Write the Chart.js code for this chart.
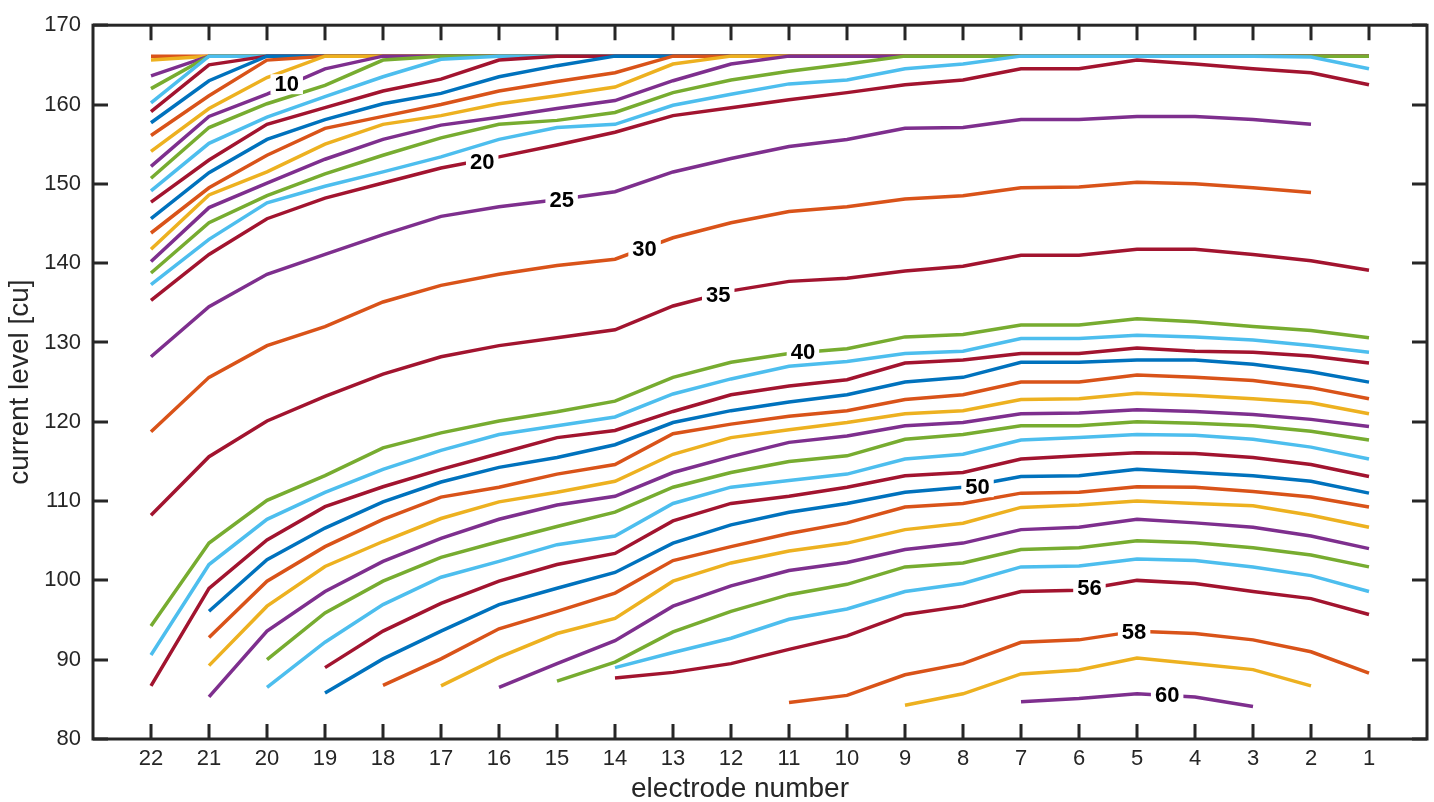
<!DOCTYPE html>
<html>
<head>
<meta charset="utf-8">
<script src="https://cdn.jsdelivr.net/npm/chart.js@4.4.1/dist/chart.umd.min.js"></script>
<style>
  html, body { margin: 0; padding: 0; background: #fff; }
  #wrap { width: 1434px; height: 802px; }
</style>
</head>
<body>
<div id="wrap"><canvas id="levelChart"></canvas></div>
<script>
// electrodes, left to right on the axis
const electrodes = [22, 21, 20, 19, 18, 17, 16, 15, 14, 13, 12, 11, 10, 9, 8, 7, 6, 5, 4, 3, 2, 1];

// current level [cu] per loudness level, one value per electrode (null = no line)
const level01 = [166.1, 166.1, 166.1, 166.1, 166.1, 166.1, 166.1, 166.1, 166.1, 166.1, 166.1, 166.1, 166.1, 166.1, 166.1, 166.1, 166.1, 166.1, 166.1, 166.1, 166.1, 166.1];
const level02 = [165.6, 166.1, 166.1, 166.1, 166.1, 166.1, 166.1, 166.1, 166.1, 166.1, 166.1, 166.1, 166.1, 166.1, 166.1, 166.1, 166.1, 166.1, 166.1, 166.1, 166.1, 166.1];
const level03 = [163.6, 166.1, 166.1, 166.1, 166.1, 166.1, 166.1, 166.1, 166.1, 166.1, 166.1, 166.1, 166.1, 166.1, 166.1, 166.1, 166.1, 166.1, 166.1, 166.1, 166.1, 166.1];
const level04 = [162.0, 166.1, 166.1, 166.1, 166.1, 166.1, 166.1, 166.1, 166.1, 166.1, 166.1, 166.1, 166.1, 166.1, 166.1, 166.1, 166.1, 166.1, 166.1, 166.1, 166.1, 166.1];
const level05 = [160.2, 166.1, 166.1, 166.1, 166.1, 166.1, 166.1, 166.1, 166.1, 166.1, 166.1, 166.1, 166.1, 166.1, 166.1, 166.1, 166.1, 166.1, 166.1, 166.1, 166.1, 166.1];
const level06 = [159.1, 165.0, 166.1, 166.1, 166.1, 166.1, 166.1, 166.1, 166.1, 166.1, 166.1, 166.1, 166.1, 166.1, 166.1, 166.1, 166.1, 166.1, 166.1, 166.1, 166.1, 166.1];
const level07 = [157.7, 163.0, 166.1, 166.1, 166.1, 166.1, 166.1, 166.1, 166.1, 166.1, 166.1, 166.1, 166.1, 166.1, 166.1, 166.1, 166.1, 166.1, 166.1, 166.1, 166.1, 166.1];
const level08 = [156.1, 161.1, 165.6, 166.1, 166.1, 166.1, 166.1, 166.1, 166.1, 166.1, 166.1, 166.1, 166.1, 166.1, 166.1, 166.1, 166.1, 166.1, 166.1, 166.1, 166.1, 166.1];
const level09 = [154.1, 159.5, 163.4, 166.1, 166.1, 166.1, 166.1, 166.1, 166.1, 166.1, 166.1, 166.1, 166.1, 166.1, 166.1, 166.1, 166.1, 166.1, 166.1, 166.1, 166.1, 166.1];
const level10 = [152.2, 158.5, 161.3, 164.5, 166.1, 166.1, 166.1, 166.1, 166.1, 166.1, 166.1, 166.1, 166.1, 166.1, 166.1, 166.1, 166.1, 166.1, 166.1, 166.1, 166.1, 166.1];
const level11 = [150.7, 157.1, 160.1, 162.4, 165.6, 166.1, 166.1, 166.1, 166.1, 166.1, 166.1, 166.1, 166.1, 166.1, 166.1, 166.1, 166.1, 166.1, 166.1, 166.1, 166.1, 166.1];
const level12 = [149.1, 155.1, 158.4, 161.0, 163.5, 165.7, 166.1, 166.1, 166.1, 166.1, 166.1, 166.1, 166.1, 166.1, 166.1, 166.1, 166.1, 166.1, 166.1, 166.1, 166.1, 166.1];
const level13 = [147.7, 153.0, 157.5, 159.6, 161.7, 163.2, 165.6, 166.1, 166.1, 166.1, 166.1, 166.1, 166.1, 166.1, 166.1, 166.1, 166.1, 166.1, 166.1, 166.1, 166.1, 166.1];
const level14 = [145.6, 151.4, 155.6, 158.1, 160.1, 161.4, 163.5, 164.9, 166.1, 166.1, 166.1, 166.1, 166.1, 166.1, 166.1, 166.1, 166.1, 166.1, 166.1, 166.1, 166.1, 166.1];
const level15 = [143.8, 149.5, 153.6, 157.0, 158.5, 160.0, 161.7, 162.9, 164.0, 166.1, 166.1, 166.1, 166.1, 166.1, 166.1, 166.1, 166.1, 166.1, 166.1, 166.1, 166.1, 166.1];
const level16 = [141.75, 148.6, 151.5, 155.0, 157.5, 158.6, 160.1, 161.1, 162.2, 165.1, 166.1, 166.1, 166.1, 166.1, 166.1, 166.1, 166.1, 166.1, 166.1, 166.1, 166.1, 166.1];
const level17 = [140.2, 147.0, 150.1, 153.1, 155.6, 157.4, 158.4, 159.5, 160.5, 163.0, 165.1, 166.1, 166.1, 166.1, 166.1, 166.1, 166.1, 166.1, 166.1, 166.1, 166.1, 166.1];
const level18 = [138.75, 145.1, 148.5, 151.25, 153.6, 155.8, 157.5, 158.0, 159.0, 161.5, 163.1, 164.2, 165.1, 166.1, 166.1, 166.1, 166.1, 166.1, 166.1, 166.1, 166.1, 166.1];
const level19 = [137.3, 143.0, 147.6, 149.7, 151.5, 153.4, 155.6, 157.1, 157.5, 159.9, 161.3, 162.6, 163.1, 164.5, 165.1, 166.1, 166.1, 166.1, 166.1, 166.1, 166.0, 164.5];
const level20 = [135.3, 141.1, 145.6, 148.2, 150.1, 152.0, 153.4, 154.9, 156.5, 158.6, 159.6, 160.6, 161.5, 162.5, 163.1, 164.5, 164.5, 165.6, 165.1, 164.5, 164.0, 162.5];
const level25 = [128.2, 134.5, 138.6, 141.1, 143.6, 145.9, 147.1, 148.0, 149.0, 151.5, 153.2, 154.7, 155.6, 157.0, 157.1, 158.1, 158.1, 158.5, 158.5, 158.1, 157.5, null];
const level30 = [118.75, 125.6, 129.6, 132.0, 135.1, 137.2, 138.6, 139.7, 140.5, 143.2, 145.1, 146.5, 147.1, 148.1, 148.5, 149.5, 149.6, 150.2, 150.0, 149.5, 148.9, null];
const level35 = [108.2, 115.6, 120.1, 123.2, 126.0, 128.2, 129.6, 130.6, 131.6, 134.6, 136.5, 137.7, 138.1, 139.0, 139.6, 141.0, 141.0, 141.75, 141.75, 141.1, 140.3, 139.1];
const level40 = [94.25, 104.7, 110.1, 113.2, 116.7, 118.6, 120.1, 121.25, 122.6, 125.6, 127.5, 128.6, 129.2, 130.7, 131.0, 132.2, 132.2, 133.0, 132.6, 132.0, 131.5, 130.6];
const level41 = [90.6, 102.0, 107.7, 111.1, 114.0, 116.4, 118.4, 119.5, 120.6, 123.5, 125.4, 127.0, 127.6, 128.6, 128.9, 130.5, 130.5, 130.9, 130.7, 130.3, 129.6, 128.75];
const level42 = [86.7, 99.0, 105.1, 109.3, 111.8, 114.0, 116.0, 118.0, 118.9, 121.3, 123.4, 124.5, 125.3, 127.4, 127.8, 128.6, 128.6, 129.3, 128.9, 128.75, 128.3, 127.4];
const level43 = [null, 96.1, 102.6, 106.6, 109.9, 112.4, 114.25, 115.5, 117.1, 119.9, 121.4, 122.5, 123.4, 125.0, 125.6, 127.5, 127.5, 127.8, 127.8, 127.25, 126.3, 125.0];
const level44 = [null, 92.8, 99.9, 104.25, 107.7, 110.5, 111.75, 113.4, 114.6, 118.5, 119.7, 120.7, 121.4, 122.8, 123.4, 125.0, 125.0, 125.9, 125.6, 125.2, 124.3, 122.9];
const level45 = [null, 89.25, 96.75, 101.75, 104.9, 107.8, 109.9, 111.1, 112.5, 115.9, 118.0, 119.0, 119.9, 121.0, 121.4, 122.8, 122.9, 123.6, 123.3, 122.9, 122.4, 121.0];
const level46 = [null, 85.3, 93.6, 98.6, 102.4, 105.3, 107.7, 109.5, 110.6, 113.6, 115.6, 117.4, 118.2, 119.5, 119.9, 121.0, 121.1, 121.5, 121.3, 120.9, 120.3, 119.4];
const level47 = [null, null, 90.0, 95.9, 99.9, 102.9, 104.9, 106.8, 108.6, 111.75, 113.6, 115.0, 115.7, 117.8, 118.4, 119.5, 119.5, 120.0, 119.8, 119.5, 118.8, 117.7];
const level48 = [null, null, 86.5, 92.2, 96.95, 100.4, 102.4, 104.5, 105.6, 109.7, 111.75, 112.6, 113.4, 115.3, 115.9, 117.7, 118.0, 118.4, 118.3, 117.8, 116.8, 115.3];
const level49 = [null, null, null, 89.0, 93.6, 97.1, 99.9, 102.0, 103.4, 107.5, 109.7, 110.6, 111.75, 113.2, 113.6, 115.3, 115.7, 116.1, 116.0, 115.5, 114.6, 113.1];
const level50 = [null, null, null, 85.8, 90.1, 93.6, 96.95, 99.0, 101.0, 104.7, 107.0, 108.6, 109.7, 111.1, 111.75, 113.1, 113.2, 114.0, 113.6, 113.2, 112.5, 111.0];
const level51 = [null, null, null, null, 86.75, 90.1, 93.9, 96.1, 98.4, 102.5, 104.25, 105.9, 107.25, 109.25, 109.7, 111.0, 111.1, 111.8, 111.75, 111.2, 110.5, 109.25];
const level52 = [null, null, null, null, null, 86.7, 90.3, 93.3, 95.2, 99.9, 102.2, 103.7, 104.7, 106.4, 107.2, 109.2, 109.5, 110.0, 109.7, 109.4, 108.2, 106.7];
const level53 = [null, null, null, null, null, null, 86.5, 89.5, 92.4, 96.75, 99.3, 101.25, 102.25, 103.9, 104.7, 106.4, 106.7, 107.7, 107.25, 106.7, 105.6, 104.0];
const level54 = [null, null, null, null, null, null, null, 87.3, 89.7, 93.5, 96.1, 98.2, 99.5, 101.7, 102.2, 103.9, 104.1, 105.0, 104.75, 104.1, 103.2, 101.7];
const level55 = [null, null, null, null, null, null, null, null, 89.0, 90.9, 92.7, 95.1, 96.4, 98.6, 99.6, 101.7, 101.8, 102.7, 102.5, 101.7, 100.6, 98.6];
const level56 = [null, null, null, null, null, null, null, null, 87.7, 88.4, 89.5, 91.3, 93.0, 95.7, 96.75, 98.6, 98.75, 100.0, 99.6, 98.6, 97.7, 95.7];
const level58 = [null, null, null, null, null, null, null, null, null, null, null, 84.6, 85.5, 88.1, 89.5, 92.2, 92.5, 93.6, 93.3, 92.5, 91.0, 88.3];
const level59 = [null, null, null, null, null, null, null, null, null, null, null, null, null, 84.25, 85.7, 88.2, 88.7, 90.2, 89.5, 88.75, 86.7, null];
const level60 = [null, null, null, null, null, null, null, null, null, null, null, null, null, null, null, 84.7, 85.1, 85.7, 85.3, 84.1, null, null];

// plotting order and line colour of every level
const levelIds = [1, 2, 3, 4, 5, 6, 7, 8, 9, 10, 11, 12, 13, 14, 15, 16, 17, 18, 19, 20,
  25, 30, 35, 40, 41, 42, 43, 44, 45, 46, 47, 48, 49, 50, 51, 52, 53, 54, 55, 56, 58, 59, 60];
const levelValues = [level01, level02, level03, level04, level05, level06, level07, level08, level09, level10,
  level11, level12, level13, level14, level15, level16, level17, level18, level19, level20,
  level25, level30, level35, level40, level41, level42, level43, level44, level45, level46, level47,
  level48, level49, level50, level51, level52, level53, level54, level55, level56, level58, level59, level60];
const levelColors = ['orange', 'yellow', 'purple', 'green', 'cyan', 'red', 'blue', 'orange', 'yellow', 'purple',
  'green', 'cyan', 'red', 'blue', 'orange', 'yellow', 'purple', 'green', 'cyan', 'red',
  'purple', 'orange', 'red', 'green', 'cyan', 'red', 'blue', 'orange', 'yellow', 'purple', 'green',
  'cyan', 'red', 'blue', 'orange', 'yellow', 'purple', 'green', 'cyan', 'red', 'orange', 'yellow', 'purple'];

// inline contour labels: text, electrode position, current level
const labelTexts = ['10', '20', '25', '30', '35', '40', '50', '56', '58', '60'];
const labelElectrode = [19.66, 16.29, 14.92, 13.49, 12.22, 10.76, 7.75, 5.82, 5.05, 4.48];
const labelLevel = [162.56, 152.8, 148.0, 141.75, 135.94, 128.8, 111.75, 99.0, 93.44, 85.6];

const yTicks = [80, 90, 100, 110, 120, 130, 140, 150, 160, 170];

const palette = {
  blue: '#0072BD', orange: '#D95319', yellow: '#EDB120', purple: '#7E2F8E',
  green: '#77AC30', cyan: '#4DBEEE', red: '#A2142F'
};
const axisColor = '#262626';
const fontFamily = "'Liberation Sans', Arial, Helvetica, sans-serif";

const datasets = levelValues.map((vals, i) => ({
  label: 'Level ' + levelIds[i],
  data: electrodes.map((e, k) => ({ x: e, y: vals[k] })),
  borderColor: palette[levelColors[i]],
  backgroundColor: palette[levelColors[i]],
  borderWidth: 3.5,
  pointRadius: 0,
  fill: false,
  tension: 0,
  spanGaps: false,
  order: -i // later levels drawn on top, as in the original
}));

// box, inward ticks, inline labels and the x axis title
const boxPlugin = {
  id: 'boxPlugin',
  afterDatasetsDraw(chart) {
    const ctx = chart.ctx;
    const xs = chart.scales.x, ys = chart.scales.y;
    ctx.save();
    ctx.font = 'bold 22px ' + fontFamily;
    ctx.textAlign = 'center';
    ctx.textBaseline = 'middle';
    labelTexts.forEach((t, i) => {
      const px = xs.getPixelForValue(labelElectrode[i]);
      const py = ys.getPixelForValue(labelLevel[i]);
      const w = ctx.measureText(t).width;
      ctx.fillStyle = '#fff';
      ctx.fillRect(px - w / 2 - 4, py - 10, w + 8, 20);
      ctx.fillStyle = '#000';
      ctx.fillText(t, px, py + 1);
    });
    ctx.restore();
  },
  afterDraw(chart) {
    const ctx = chart.ctx;
    const { left, right, top, bottom } = chart.chartArea;
    const xs = chart.scales.x, ys = chart.scales.y;
    const tl = 15;
    ctx.save();
    ctx.strokeStyle = axisColor;
    ctx.lineWidth = 3;
    ctx.beginPath();
    electrodes.forEach(e => {
      const px = Math.round(xs.getPixelForValue(e));
      ctx.moveTo(px, bottom); ctx.lineTo(px, bottom - tl);
      ctx.moveTo(px, top); ctx.lineTo(px, top + tl);
    });
    yTicks.forEach(v => {
      const py = Math.round(ys.getPixelForValue(v));
      ctx.moveTo(left, py); ctx.lineTo(left + tl, py);
      ctx.moveTo(right, py); ctx.lineTo(right - tl, py);
    });
    ctx.stroke();
    ctx.strokeRect(left, top, right - left, bottom - top);

    // x title sits a little left of the axis centre in the original
    ctx.fillStyle = axisColor;
    ctx.font = '28px ' + fontFamily;
    ctx.textAlign = 'center';
    ctx.textBaseline = 'middle';
    ctx.fillText('electrode number', (left + right) / 2 - 20, bottom + 50);
    ctx.restore();
  }
};

const ctx = document.getElementById('levelChart').getContext('2d');
new Chart(ctx, {
  type: 'line',
  data: { datasets: datasets },
  options: {
    responsive: true,
    maintainAspectRatio: false,
    animation: false,
    layout: { padding: { top: 19, right: 7, left: 0, bottom: 0 } },
    plugins: {
      legend: { display: false },
      tooltip: { enabled: false }
    },
    scales: {
      x: {
        type: 'linear',
        min: 0,
        max: 23,
        reverse: true,
        afterFit(scale) { scale.height = 63; },
        afterBuildTicks(scale) { scale.ticks = electrodes.map(v => ({ value: v })); },
        grid: { display: false, drawTicks: false },
        border: { display: false },
        ticks: {
          autoSkip: false,
          maxRotation: 0,
          padding: 7,
          color: axisColor,
          font: { family: fontFamily, size: 22 },
          callback: v => String(v)
        },
        title: { display: false }
      },
      y: {
        min: 80,
        max: 170,
        afterFit(scale) { scale.width = 93; },
        afterBuildTicks(scale) { scale.ticks = yTicks.map(v => ({ value: v })); },
        grid: { display: false, drawTicks: false },
        border: { display: false },
        ticks: {
          padding: 12,
          color: axisColor,
          font: { family: fontFamily, size: 22 }
        },
        title: {
          display: true,
          text: 'current level [cu]',
          color: axisColor,
          padding: { top: 6, bottom: 0 },
          font: { family: fontFamily, size: 28, lineHeight: 1 }
        }
      }
    }
  },
  plugins: [boxPlugin]
});
</script>
</body>
</html>
